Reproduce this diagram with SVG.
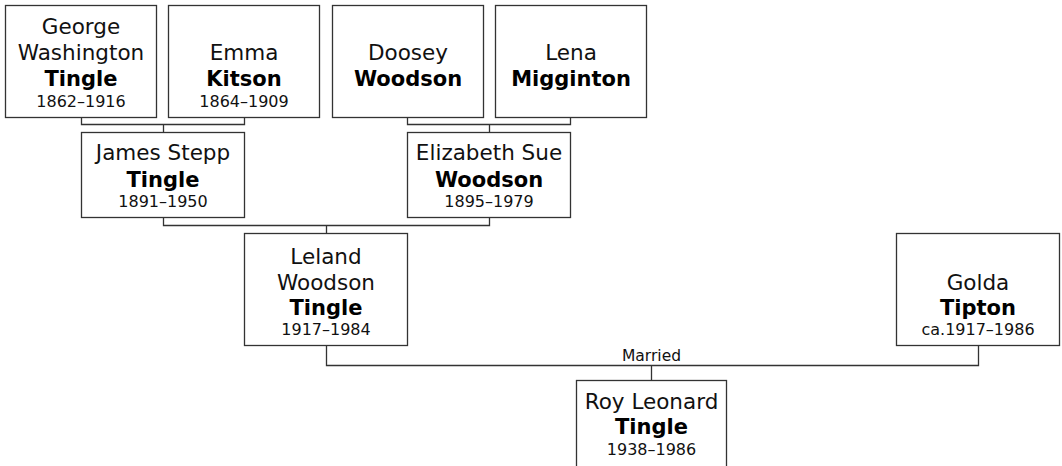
<svg xmlns="http://www.w3.org/2000/svg" width="1062" height="466" viewBox="0 0 1062 466">
<style>
.box{fill:#fff;stroke:#333;stroke-width:1.3}
.con{fill:none;stroke:#333;stroke-width:1.3}
text{font-family:"DejaVu Sans",Verdana,sans-serif;text-anchor:middle;fill:#111}
.n{font-size:21.5px}
.b{font-size:21px;font-weight:bold;fill:#000}
.d{font-size:16px}
.m{font-size:15.5px}
</style>
<rect width="1062" height="466" fill="#fff"/>
<g id="connectors">
<path class="con" d="M81.5 117.5V124.5H244.5V117.5M163.5 124.5V132.5"/>
<path class="con" d="M407.5 117.5V124.5H570.5V117.5M489.5 124.5V132.5"/>
<path class="con" d="M163.5 217.5V225.5H489.5V217.5M326.5 225.5V233.5"/>
<path class="con" d="M326.5 345.5V365.5H978.5V345.5M651.5 365.5V380.5"/>
<text class="m" x="651.5" y="361">Married</text>
</g>
<g id="george">
<rect class="box" x="5.5" y="5.5" width="151" height="112"/>
<text class="n" x="81" y="34">George</text>
<text class="n" x="81" y="60">Washington</text>
<text class="b" x="81" y="86">Tingle</text>
<text class="d" x="81" y="107">1862–1916</text>
</g>
<g id="emma">
<rect class="box" x="168.5" y="5.5" width="151" height="112"/>
<text class="n" x="244" y="60">Emma</text>
<text class="b" x="244" y="86">Kitson</text>
<text class="d" x="244" y="107">1864–1909</text>
</g>
<g id="doosey">
<rect class="box" x="332.5" y="5.5" width="151" height="112"/>
<text class="n" x="408" y="60">Doosey</text>
<text class="b" x="408" y="86">Woodson</text>
</g>
<g id="lena">
<rect class="box" x="495.5" y="5.5" width="151" height="112"/>
<text class="n" x="571" y="60">Lena</text>
<text class="b" x="571" y="86">Migginton</text>
</g>
<g id="james">
<rect class="box" x="81.5" y="132.5" width="163" height="85"/>
<text class="n" x="163" y="160">James Stepp</text>
<text class="b" x="163" y="186.5">Tingle</text>
<text class="d" x="163" y="207">1891–1950</text>
</g>
<g id="elizabeth">
<rect class="box" x="407.5" y="132.5" width="163" height="85"/>
<text class="n" x="489" y="160">Elizabeth Sue</text>
<text class="b" x="489" y="186.5">Woodson</text>
<text class="d" x="489" y="207">1895–1979</text>
</g>
<g id="leland">
<rect class="box" x="244.5" y="233.5" width="163" height="112"/>
<text class="n" x="326" y="263.5">Leland</text>
<text class="n" x="326" y="289.5">Woodson</text>
<text class="b" x="326" y="315">Tingle</text>
<text class="d" x="326" y="335">1917–1984</text>
</g>
<g id="golda">
<rect class="box" x="896.5" y="233.5" width="163" height="112"/>
<text class="n" x="978" y="289.5">Golda</text>
<text class="b" x="978" y="315">Tipton</text>
<text class="d" x="978" y="335">ca.1917–1986</text>
</g>
<g id="roy">
<rect class="box" x="576.5" y="380.5" width="150" height="95"/>
<text class="n" x="651.5" y="408.5">Roy Leonard</text>
<text class="b" x="651.5" y="434">Tingle</text>
<text class="d" x="651.5" y="454.5">1938–1986</text>
</g>
</svg>
